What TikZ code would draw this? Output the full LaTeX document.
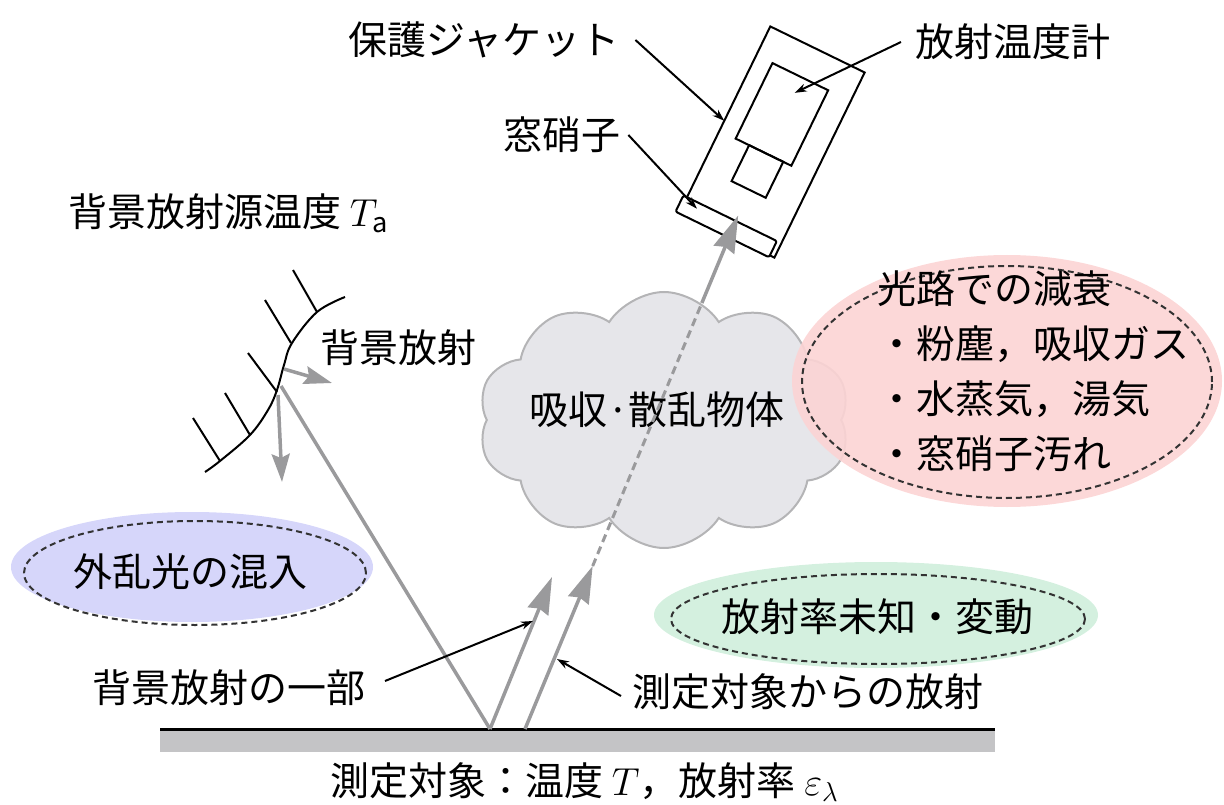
\RequirePackage{fix-cm}
\documentclass[tikz,border=0pt]{standalone}
\usepackage{fontspec}
\setmainfont{Noto Sans CJK JP}
\usetikzlibrary{arrows.meta,shapes.geometric,shapes.symbols,calc}

\definecolor{raygray}{HTML}{9A9A9C}
\definecolor{groundgray}{HTML}{C4C4C6}
\definecolor{cloudfill}{HTML}{E6E6EA}
\definecolor{cloudline}{HTML}{B4B4B6}
\definecolor{pinkfill}{HTML}{FCD4D4}
\definecolor{bluefill}{HTML}{D6D6FA}
\definecolor{greenfill}{HTML}{D4F0DF}
\definecolor{dashink}{HTML}{333333}

\tikzset{
  lbl/.style={inner sep=0pt, font=\fontsize{39}{55}\selectfont},
  ray/.style={draw=raygray, line width=3.5pt},
  raytip/.style={-{Stealth[length=37pt,width=22pt,inset=3pt]}},
  smalltip/.style={-{Stealth[length=28pt,width=18pt,inset=4pt]}},
  leader/.style={draw=black, line width=2pt, -{Stealth[length=12pt,width=8pt]}},
  blob/.style={ellipse, draw=none, inner sep=0pt},
  blobline/.style={ellipse, draw=dashink, line width=2pt, dash pattern=on 6pt off 4pt, inner sep=0pt},
  outline/.style={draw=black, line width=2pt},
}

\begin{document}
\begin{tikzpicture}[x=1pt,y=-1pt]
\useasboundingbox (0,0) rectangle (1224,805);

% measured object (ground)
\fill[groundgray] (160,729) rectangle (995,752);
\draw[line width=3pt] (160,729) -- (995,729);
\coordinate (refl) at (490,729);
\coordinate (src) at (525,729);
\node[lbl, anchor=west] (target) at (330,782) {測定対象：温度 $T$，放射率 $\varepsilon_\lambda$};

% absorbing / scattering body
\node[cloud, cloud puffs=10, cloud puff arc=115, aspect=1.45, draw=cloudline, fill=cloudfill,
      line width=2pt, minimum width=372pt, minimum height=256pt, inner sep=0pt] (cloud) at (664,420) {};
\node[lbl] (cloudtxt) at (657,410) {吸収·散乱物体};

% attenuation on the optical path
\node[blob, fill=pinkfill, fill opacity=0.9, minimum width=430pt, minimum height=252pt] (attn) at (1007,381) {};
\node[blobline, minimum width=410pt, minimum height=232pt] (attnline) at (1007,382) {};
\node[lbl, anchor=west, align=left] (attntxt) at (877,371) {光路での減衰\\・粉塵，吸収ガス\\・水蒸気，湯気\\・窓硝子汚れ};

% stray light
\node[blob, fill=bluefill, minimum width=362pt, minimum height=110pt] (stray) at (192,567) {};
\node[blobline, minimum width=342pt, minimum height=104pt] (strayline) at (195,573) {};
\node[lbl] (straytxt) at (190,572) {外乱光の混入};

% unknown emissivity
\node[blob, fill=greenfill, minimum width=444pt, minimum height=106pt] (emis) at (876,615) {};
\node[blobline, minimum width=414pt, minimum height=90pt] (emisline) at (878,619) {};
\node[lbl] (emistxt) at (877,617) {放射率未知・変動};

% protective jacket, window and pyrometer
\begin{scope}[shift={(775,140)}, x=1pt, y=1pt, rotate=-26]
  \draw[outline] (-54,-106) rectangle (51,100);
  \draw[outline, fill=white, rounded corners=2pt] (-58,-108) rectangle (46,-90);
  \draw[outline] (-36,-16) rectangle (26,68);
  \draw[outline] (-21,-56) rectangle (17,-16);
  \coordinate (jacketL) at (-54,-5);
  \coordinate (winL) at (-40,-96);
  \coordinate (thermT) at (-3,51);
  \coordinate (wintip) at (0,-84);
\end{scope}

% background radiator
\draw[outline] plot[smooth, tension=0.6] coordinates {(205,472) (220,461) (250,435) (268,410) (277,390) (284,365) (292,343) (317,312) (345,297)};
\draw[outline] (220,461) -- (193,418);
\draw[outline] (250,435) -- (225,393);
\draw[outline] (277,392) -- (248,353);
\draw[outline] (291,343) -- (265,300);
\draw[outline] (317,312) -- (293,270);
\coordinate (bgpt) at (281,386);
\draw[ray, smalltip] (284,369) -- (332,383);
\draw[ray, smalltip] (278,395) -- (282,482);
\node[lbl, anchor=west] (bgrad) at (320,348) {背景放射};
\node[lbl, anchor=west] (bgsrc) at (68,213) {背景放射源温度 $T_\mathrm{a}$};

% reflected background radiation
\draw[ray] (bgpt) -- (refl);
\draw[ray, raytip] (refl) -- (552,577);

% radiation from the measured object
\coordinate (tip1) at ($(src)!0.3174!(wintip)$);
\coordinate (cloudexit) at ($(src)!0.8296!(wintip)$);
\draw[ray, raytip] (src) -- (tip1);
\draw[draw=raygray, line width=3pt, dash pattern=on 8pt off 5pt] (tip1) -- (cloudexit);
\draw[ray, raytip] (cloudexit) -- (wintip);

% labels with leader lines
\node[lbl, anchor=west] (jacketlbl) at (348,40) {保護ジャケット};
\node[lbl, anchor=west] (thermlbl) at (915,42) {放射温度計};
\node[lbl, anchor=west] (windowlbl) at (503,135) {窓硝子};
\node[lbl, anchor=west] (partlbl) at (92,688) {背景放射の一部};
\node[lbl, anchor=west] (directlbl) at (632,692) {測定対象からの放射};

\draw[leader] ([xshift=16pt]jacketlbl.east) -- (jacketL);
\draw[leader] ([xshift=-14pt]thermlbl.west) -- (thermT);
\draw[leader] ([xshift=8pt]windowlbl.east) -- (winL);
\coordinate (partstart) at (385,681);
\coordinate (partend) at (533,621);
\draw[leader] (partstart) -- (partend);
\coordinate (directstart) at (621,696);
\coordinate (directend) at (557,659);
\draw[leader] (directstart) -- (directend);
\end{tikzpicture}
\end{document}
